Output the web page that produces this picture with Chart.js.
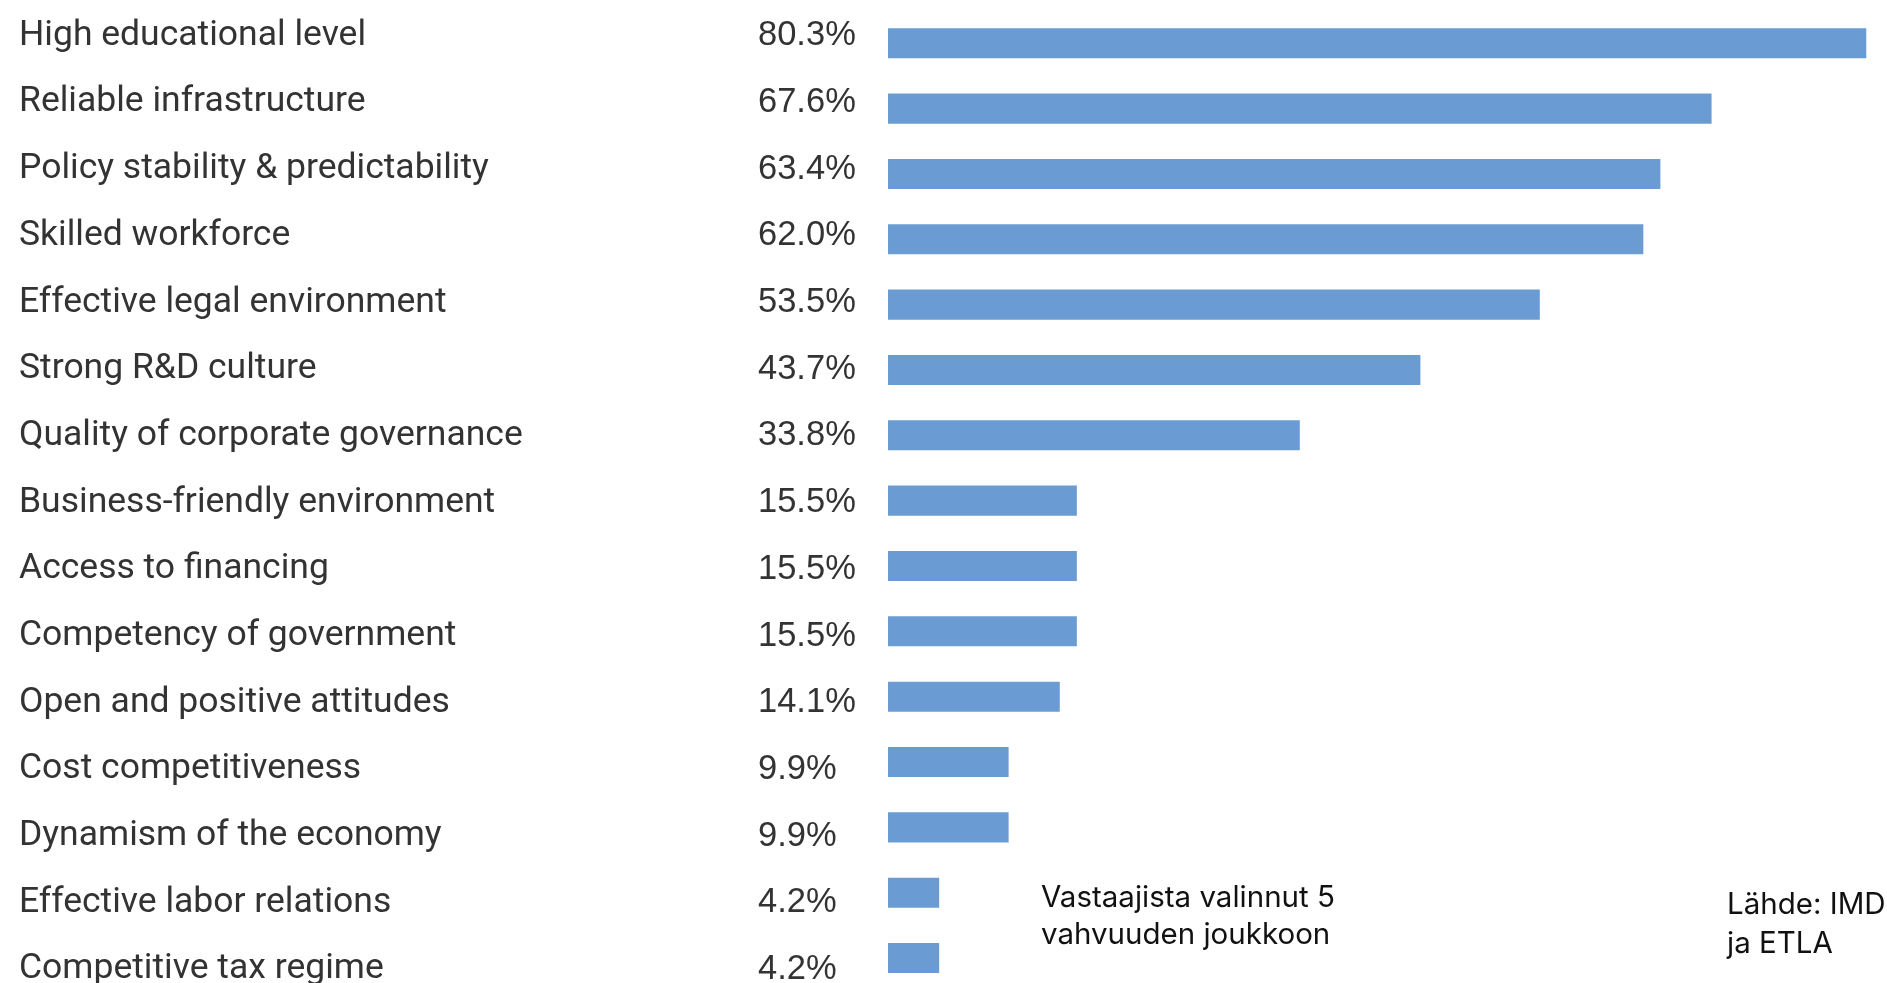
<!DOCTYPE html>
<html>
<head>
<meta charset="utf-8">
<script src="https://cdn.jsdelivr.net/npm/chart.js@4"></script>
<style>
  html, body { margin: 0; padding: 0; background: #fff; overflow: hidden; }
  #wrap { position: relative; width: 1887px; height: 1000px; }
  .note { position: absolute; font-family: Inter, "Noto Sans", sans-serif; font-size: 29.5px; color: #111; white-space: nowrap; }
</style>
</head>
<body>
<div id="wrap">
  <canvas id="bars"></canvas>
  <div class="note" style="left:1041px; top:878px; line-height:37px;">Vastaajista valinnut 5<br>vahvuuden joukkoon</div>
  <div class="note" style="left:1727px; top:884px; line-height:38.5px;">Lähde: IMD<br>ja ETLA</div>
</div>
<script>
const vahvuudet = [
  "High educational level",
  "Reliable infrastructure",
  "Policy stability & predictability",
  "Skilled workforce",
  "Effective legal environment",
  "Strong R&D culture",
  "Quality of corporate governance",
  "Business-friendly environment",
  "Access to financing",
  "Competency of government",
  "Open and positive attitudes",
  "Cost competitiveness",
  "Dynamism of the economy",
  "Effective labor relations",
  "Competitive tax regime",
];
const osuudet = [80.3, 67.6, 63.4, 62.0, 53.5, 43.7, 33.8, 15.5, 15.5, 15.5, 14.1, 9.9, 9.9, 4.2, 4.2];

// labels sit on a slightly wider spacing than the bars
function labelAxis(weight, width, font, fmt) {
  return {
    type: "linear",
    position: "left",
    weight: weight,
    reverse: true,
    offset: false,
    bounds: "data",
    min: -0.38,
    max: 14.32,
    grid: { display: false },
    border: { display: false },
    afterBuildTicks: (s) => {
      s.ticks = vahvuudet.map((c, i) => ({ value: i }));
    },
    afterFit: (s) => {
      s.width = width;
      s.paddingTop = 0;
      s.paddingBottom = 0;
    },
    ticks: {
      autoSkip: false,
      padding: 0,
      crossAlign: "far",
      font: font,
      color: "#333",
      callback: fmt,
    },
  };
}

let kuvio = new Chart(document.getElementById("bars"), {
  type: "bar",
  data: {
    labels: vahvuudet,
    datasets: [
      {
        data: osuudet,
        backgroundColor: "#6a9bd3",
        barPercentage: 0.46,
        categoryPercentage: 1,
        yAxisID: "y",
      },
    ],
  },
  options: {
    indexAxis: "y",
    responsive: true,
    maintainAspectRatio: false,
    animation: false,
    layout: { padding: { left: 19, right: 0, top: 10.6, bottom: 9.3 } },
    plugins: { legend: { display: false }, tooltip: { enabled: false } },
    scales: {
      x: { display: false, min: 0, max: 82 },
      y: { display: false },
      nimet: labelAxis(10, 739, { family: "Roboto", size: 35.5 }, (v) => vahvuudet[v]),
      prosentit: labelAxis(5, 130, { family: "'Liberation Sans', Arial", size: 34.5 }, (v) => osuudet[v].toFixed(1) + "%"),
    },
  },
});
</script>
</body>
</html>
